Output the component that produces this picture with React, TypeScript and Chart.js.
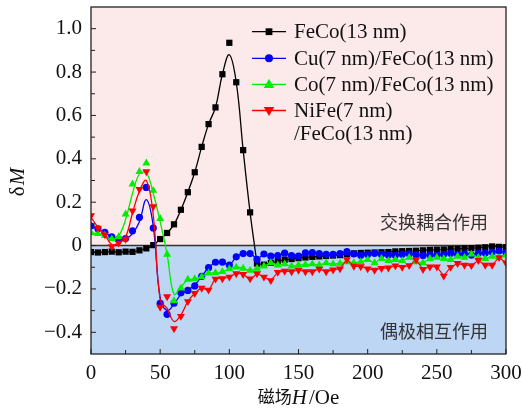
import React, { useEffect, useRef } from 'react';
import { Chart, registerables } from 'chart.js';

Chart.register(...registerables);

// ---------------- data ----------------
const fieldH = [0, 5, 10, 15, 20, 25, 30, 35, 40, 45, 50, 55, 60, 65, 70, 75, 80, 85, 90, 95, 100, 105, 110, 115, 120, 125, 130, 135, 140, 145, 150, 155, 160, 165, 170, 175, 180, 185, 190, 195, 200, 205, 210, 215, 220, 225, 230, 235, 240, 245, 250, 255, 260, 265, 270, 275, 280, 285, 290, 295, 300];

const feCoMarks = [-0.03, -0.032, -0.03, -0.028, -0.031, -0.028, -0.029, -0.022, -0.013, 0.002, 0.03, 0.058, 0.098, 0.165, 0.246, 0.338, 0.455, 0.56, 0.637, 0.79, 0.935, 0.753, 0.44, 0.153, -0.083, -0.088, -0.08, -0.072, -0.065, -0.062, -0.058, -0.055, -0.052, -0.05, -0.048, -0.046, -0.044, -0.04, -0.036, -0.034, -0.033, -0.032, -0.031, -0.03, -0.027, -0.026, -0.025, -0.024, -0.022, -0.02, -0.019, -0.018, -0.016, -0.015, -0.013, -0.012, -0.01, -0.008, -0.004, -0.006, -0.007];
const cuMarks = [0.09, 0.077, 0.061, 0.04, 0.03, 0.032, 0.068, 0.13, 0.268, 0.081, -0.266, -0.317, -0.266, -0.218, -0.207, -0.186, -0.142, -0.102, -0.077, -0.076, -0.09, -0.052, -0.037, -0.037, -0.064, -0.039, -0.049, -0.046, -0.035, -0.046, -0.049, -0.034, -0.033, -0.037, -0.041, -0.041, -0.037, -0.028, -0.039, -0.045, -0.041, -0.036, -0.041, -0.044, -0.045, -0.04, -0.038, -0.042, -0.046, -0.043, -0.045, -0.04, -0.036, -0.04, -0.038, -0.044, -0.036, -0.034, -0.03, -0.025, -0.032];
const coMarks = [0.058, 0.055, 0.047, 0.03, 0.04, 0.145, 0.283, 0.341, 0.38, 0.254, 0.124, -0.041, -0.255, -0.197, -0.156, -0.154, -0.144, -0.127, -0.126, -0.121, -0.107, -0.1, -0.105, -0.115, -0.105, -0.095, -0.08, -0.09, -0.085, -0.095, -0.09, -0.088, -0.085, -0.09, -0.08, -0.085, -0.082, -0.075, -0.08, -0.075, -0.065, -0.08, -0.06, -0.07, -0.065, -0.07, -0.055, -0.075, -0.08, -0.06, -0.055, -0.06, -0.065, -0.05, -0.055, -0.04, -0.055, -0.06, -0.05, -0.055, -0.045];
const niFeMarks = [0.138, 0.081, 0.05, -0.005, 0.012, 0.03, 0.16, 0.26, 0.341, 0.18, -0.284, -0.235, -0.383, -0.326, -0.258, -0.22, -0.196, -0.205, -0.154, -0.152, -0.145, -0.129, -0.133, -0.153, -0.129, -0.145, -0.161, -0.123, -0.118, -0.12, -0.113, -0.12, -0.12, -0.108, -0.12, -0.112, -0.107, -0.064, -0.095, -0.097, -0.107, -0.113, -0.105, -0.103, -0.093, -0.1, -0.092, -0.066, -0.11, -0.098, -0.098, -0.14, -0.1, -0.082, -0.09, -0.092, -0.068, -0.09, -0.09, -0.055, -0.08];

// smooth fitted curves, H = 0 … 120 Oe
const feCoFit = [-0.03, -0.032, -0.03, -0.028, -0.031, -0.028, -0.029, -0.022, -0.013, 0.002, 0.03, 0.058, 0.098, 0.165, 0.246, 0.338, 0.455, 0.56, 0.637, 0.79, 0.88, 0.753, 0.44, 0.153, -0.083];
const cuFit = [0.09, 0.077, 0.061, 0.04, 0.028, 0.03, 0.055, 0.11, 0.212, 0.09, -0.24, -0.3, -0.27, -0.225, -0.205, -0.182, -0.142, -0.102, -0.077, -0.076, -0.09, -0.052, -0.037, -0.037, -0.064];
const coFit = [0.058, 0.055, 0.045, 0.03, 0.045, 0.12, 0.24, 0.33, 0.335, 0.24, 0.11, -0.04, -0.225, -0.19, -0.16, -0.155, -0.144, -0.127, -0.126, -0.121, -0.107, -0.1, -0.105, -0.115, -0.105];
const niFeFit = [0.13, 0.085, 0.05, 0.005, 0.012, 0.04, 0.15, 0.25, 0.3, 0.14, -0.25, -0.29, -0.35, -0.32, -0.258, -0.22, -0.196, -0.205, -0.154, -0.152, -0.145, -0.129, -0.133, -0.153, -0.129];

const seriesLabels = ['FeCo(13 nm)', 'Cu(7 nm)/FeCo(13 nm)', 'Co(7 nm)/FeCo(13 nm)', 'NiFe(7 nm)\n/FeCo(13 nm)'];
const regionLabels = ['交换耦合作用', '偶极相互作用'];

const yTickValues = [-0.4, -0.2, 0, 0.2, 0.4, 0.6, 0.8, 1.0];
const yMinorTicks = [-0.3, -0.1, 0.1, 0.3, 0.5, 0.7, 0.9];
const xTickValues = [0, 50, 100, 150, 200, 250, 300];
const xMinorTicks = [25, 75, 125, 175, 225, 275];

// ---------------- styling ----------------
const SERIF = "'Liberation Serif', 'DejaVu Serif', serif";
const CJK = "'Noto Sans CJK SC', sans-serif";
const PINK = '#fce9e9';
const BLUE = '#bdd6f3';

type Series = { label: string; color: string; marks: number[]; fit: number[]; style: string; rotation: number; radius: number; order: number };
const seriesList: Series[] = [
  { label: seriesLabels[0], color: '#000000', marks: feCoMarks, fit: feCoFit, style: 'rect', rotation: 0, radius: 4.4, order: 7 },
  { label: seriesLabels[1], color: '#0000ff', marks: cuMarks, fit: cuFit, style: 'circle', rotation: 0, radius: 3.6, order: 5 },
  { label: seriesLabels[2], color: '#00ee00', marks: coMarks, fit: coFit, style: 'triangle', rotation: 0, radius: 4.6, order: 3 },
  { label: seriesLabels[3], color: '#ff0000', marks: niFeMarks, fit: niFeFit, style: 'triangle', rotation: 180, radius: 4.6, order: 1 },
];

function zip(xs: number[], ys: number[]) {
  return ys.map((y, i) => ({ x: xs[i], y }));
}

function drawMarker(ctx: CanvasRenderingContext2D, style: string, rotation: number, x: number, y: number, r: number, color: string) {
  ctx.save();
  ctx.fillStyle = color;
  ctx.translate(x, y);
  ctx.rotate((rotation * Math.PI) / 180);
  ctx.beginPath();
  if (style === 'rect') {
    const s = Math.SQRT1_2 * r;
    ctx.rect(-s, -s, 2 * s, 2 * s);
  } else if (style === 'circle') {
    ctx.arc(0, 0, r, 0, Math.PI * 2);
  } else {
    const a = r * 1.1;
    ctx.moveTo(0, -a);
    ctx.lineTo(a * 0.95, a * 0.65);
    ctx.lineTo(-a * 0.95, a * 0.65);
    ctx.closePath();
  }
  ctx.fill();
  ctx.restore();
}

const decorPlugin = {
  id: 'decor',
  beforeDatasetsDraw(chart: any) {
    const { ctx, chartArea: a, scales } = chart;
    const y0 = scales.y.getPixelForValue(0);
    ctx.save();
    ctx.fillStyle = PINK;
    ctx.fillRect(a.left, a.top, a.right - a.left, y0 - a.top);
    ctx.fillStyle = BLUE;
    ctx.fillRect(a.left, y0, a.right - a.left, a.bottom - y0);
    // zero line
    ctx.strokeStyle = '#333';
    ctx.lineWidth = 1.6;
    ctx.beginPath();
    ctx.moveTo(a.left, y0);
    ctx.lineTo(a.right, y0);
    ctx.stroke();
    // region labels
    ctx.fillStyle = '#333';
    ctx.font = `18px ${CJK}`;
    ctx.textAlign = 'right';
    ctx.textBaseline = 'middle';
    ctx.fillText(regionLabels[0], 488, 222);
    ctx.fillText(regionLabels[1], 488, 331);
    ctx.restore();
  },
  afterDatasetsDraw(chart: any) {
    const { ctx, chartArea: a, scales } = chart;
    ctx.save();
    // frame
    ctx.strokeStyle = '#222';
    ctx.lineWidth = 1.3;
    ctx.strokeRect(a.left, a.top, a.right - a.left, a.bottom - a.top);
    // inward ticks
    ctx.lineWidth = 1;
    ctx.beginPath();
    yTickValues.forEach((v) => {
      const p = scales.y.getPixelForValue(v);
      ctx.moveTo(a.left, p);
      ctx.lineTo(a.left + 5, p);
    });
    yMinorTicks.forEach((v) => {
      const p = scales.y.getPixelForValue(v);
      ctx.moveTo(a.left, p);
      ctx.lineTo(a.left + 4, p);
    });
    xTickValues.forEach((v) => {
      const p = scales.x.getPixelForValue(v);
      ctx.moveTo(p, a.bottom);
      ctx.lineTo(p, a.bottom - 5);
    });
    xMinorTicks.forEach((v) => {
      const p = scales.x.getPixelForValue(v);
      ctx.moveTo(p, a.bottom);
      ctx.lineTo(p, a.bottom - 4);
    });
    ctx.stroke();

    // legend
    const rows = [31.7, 58.3, 84.3, 110.5];
    seriesList.forEach((s, i) => {
      const yy = rows[i];
      ctx.strokeStyle = s.color;
      ctx.lineWidth = 1.3;
      ctx.beginPath();
      ctx.moveTo(252, yy);
      ctx.lineTo(286, yy);
      ctx.stroke();
      drawMarker(ctx, s.style, s.rotation, 269, yy, s.radius + 0.4, s.color);
      ctx.fillStyle = '#111';
      ctx.font = `21px ${SERIF}`;
      ctx.textAlign = 'left';
      ctx.textBaseline = 'middle';
      s.label.split('\n').forEach((line, j) => {
        ctx.fillText(line, 294, yy + 1 + j * 23);
      });
    });

    // axis titles
    ctx.fillStyle = '#111';
    ctx.textBaseline = 'middle';
    ctx.textAlign = 'left';
    const parts: [string, string][] = [
      ['磁场', `17px ${CJK}`],
      ['H', `italic 21px ${SERIF}`],
      ['/Oe', `21px ${SERIF}`],
    ];
    let total = 0;
    parts.forEach(([t, f]) => {
      ctx.font = f;
      total += ctx.measureText(t).width + (t === 'H' ? 2 : 0);
    });
    let cx = (a.left + a.right) / 2 - total / 2;
    parts.forEach(([t, f]) => {
      ctx.font = f;
      ctx.fillText(t, cx, t === '磁场' ? 397 : 398);
      cx += ctx.measureText(t).width + (t === 'H' ? 2 : 0);
    });

    ctx.translate(18, 182);
    ctx.rotate(-Math.PI / 2);
    ctx.font = `21px ${SERIF}`;
    const w1 = ctx.measureText('δ').width;
    ctx.font = `italic 21px ${SERIF}`;
    const w2 = ctx.measureText('M').width;
    let sx = -(w1 + w2 + 1) / 2;
    ctx.font = `21px ${SERIF}`;
    ctx.fillText('δ', sx, 0);
    sx += w1 + 1;
    ctx.font = `italic 21px ${SERIF}`;
    ctx.fillText('M', sx, 0);
    ctx.restore();
  },
};

export default function App() {
  const ref = useRef<HTMLCanvasElement | null>(null);
  useEffect(() => {
    if (!ref.current) return;
    const datasets: any[] = [];
    seriesList.forEach((s) => {
      datasets.push({
        label: s.label,
        data: zip(fieldH, s.marks),
        showLine: false,
        pointStyle: s.style,
        rotation: s.rotation,
        pointRadius: s.radius,
        pointBackgroundColor: s.color,
        pointBorderWidth: 0,
        borderColor: s.color,
        backgroundColor: s.color,
        order: s.order,
        clip: 0,
      });
      datasets.push({
        label: s.label + ' fit',
        data: zip(fieldH.slice(0, s.fit.length), s.fit),
        pointRadius: 0,
        borderColor: s.color,
        borderWidth: 1.3,
        tension: 0.4,
        fill: false,
        order: s.order + 1,
        clip: 0,
      });
      datasets.push({
        label: s.label + ' tail',
        data: zip(fieldH.slice(s.fit.length - 1), s.marks.slice(s.fit.length - 1)),
        pointRadius: 0,
        borderColor: s.color,
        borderWidth: 1.1,
        tension: 0,
        fill: false,
        order: s.order + 1,
        clip: 0,
      });
    });

    const chart = new Chart(ref.current, {
      type: 'line',
      data: { datasets },
      options: {
        animation: false,
        responsive: true,
        maintainAspectRatio: false,
        layout: { padding: { top: 7, right: 17, left: 0, bottom: 0 } },
        plugins: { legend: { display: false }, tooltip: { enabled: false } },
        scales: {
          x: {
            type: 'linear',
            min: 0,
            max: 300,
            grid: { display: false, drawTicks: false },
            border: { display: false },
            ticks: {
              stepSize: 50,
              padding: 7,
              color: '#111',
              font: { family: SERIF, size: 21 },
              maxRotation: 0,
            },
            afterFit: (sc: any) => {
              sc.height = 58;
              sc.paddingLeft = 0;
              sc.paddingRight = 0;
            },
          },
          y: {
            type: 'linear',
            min: -0.5,
            max: 1.1,
            grid: { display: false, drawTicks: false },
            border: { display: false },
            afterBuildTicks: (sc: any) => {
              sc.ticks = yTickValues.map((v) => ({ value: v }));
            },
            ticks: {
              padding: 9,
              color: '#111',
              font: { family: SERIF, size: 21 },
              callback: (v: any) => {
                const n = Number(v);
                if (Math.abs(n) < 1e-9) return '0';
                return (n < 0 ? '−' : '') + Math.abs(n).toFixed(1);
              },
            },
            afterFit: (sc: any) => {
              sc.width = 91;
              sc.paddingTop = 0;
              sc.paddingBottom = 0;
            },
          },
        },
      },
      plugins: [decorPlugin],
    });
    return () => chart.destroy();
  }, []);

  return (
    <div style={{ position: 'fixed', left: 0, top: 0, width: 523, height: 412, background: '#fff' }}>
      <canvas ref={ref} />
    </div>
  );
}
